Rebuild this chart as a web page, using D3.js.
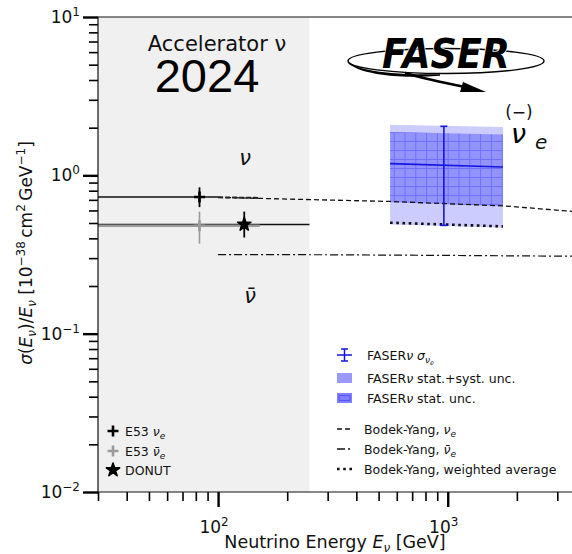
<!DOCTYPE html>
<html>
<head>
<meta charset="utf-8">
<script src="https://cdn.jsdelivr.net/npm/d3@7"></script>
<style>
  html, body { margin: 0; padding: 0; background: #fff; overflow: hidden; }
  svg { display: block; font-family: "DejaVu Sans", sans-serif; }
</style>
</head>
<body>
<svg id="chart" width="572" height="554"></svg>
<script>
// ---- axis ranges and ticks ----
const xDomain = [30, 4000];          // GeV
const yDomain = [0.01, 10];          // 1e-38 cm^2 / GeV
const xMajor = [100, 1000];
const xMajorExp = ["2", "3"];
const yMajor = [0.01, 0.1, 1, 10];
const yMajorExp = ["\u22122", "\u22121", "0", "1"];

// accelerator region
const accelRange = [30, 250];

// E53 nu_e
const e53NueE = 83, e53NueVal = 0.73, e53NueErr = [0.63, 0.84], e53NueRange = [20, 100];
// E53 anti-nu_e
const e53NuebE = 83, e53NuebVal = 0.48, e53NuebErr = [0.37, 0.59], e53NuebRange = [20, 152];
// DONUT
const donutE = 130, donutVal = 0.49, donutErr = [0.405, 0.59], donutRange = [20, 250];

// Bodek-Yang predictions
const byNueE = [100, 228, 561, 1790, 3470, 4000];
const byNueV = [0.726, 0.705, 0.684, 0.64, 0.592, 0.585];
const byNueAccelE = [100, 152];
const byNueAccelV = [0.726, 0.72];
const byNuebE = [100, 300, 1000, 4000];
const byNuebV = [0.316, 0.315, 0.312, 0.308];
const byAvgE = [561, 1740];
const byAvgV = [0.502, 0.476];

// FASERnu measurement
const faserE = [561, 1740];
const faserCentral = [1.186, 1.128];
const faserTotLo = [0.49, 0.466];
const faserTotHi = [2.09, 2.02];
const faserStatLo = [0.675, 0.64];
const faserStatHi = [1.88, 1.81];
const faserPointE = 962;
const faserPointErr = [0.483, 2.04];

const svg = d3.select("#chart");
const W = 572;
const m = { left: 98, top: 17, right: 586, bottom: 492 };

const x = d3.scaleLog().domain(xDomain).range([m.left, m.right]);
const y = d3.scaleLog().domain(yDomain).range([m.bottom, m.top]);

const defs = svg.append("defs");
defs.append("clipPath").attr("id", "plotclip")
  .append("rect").attr("x", m.left).attr("y", m.top)
  .attr("width", W - m.left).attr("height", m.bottom - m.top);

// hatch for the statistical band
const pat = defs.append("pattern").attr("id", "hatch")
  .attr("patternUnits", "userSpaceOnUse").attr("width", 10.8).attr("height", 9)
  .attr("x", 0).attr("y", 2);
pat.append("path").attr("d", "M5.4,0V9M0,4.5H10.8")
  .attr("stroke", "#4444ff").attr("stroke-width", 1).attr("stroke-opacity", 0.45);

const plot = svg.append("g").attr("clip-path", "url(#plotclip)");

// accelerator region shading
plot.append("rect")
  .attr("x", x(accelRange[0])).attr("y", m.top)
  .attr("width", x(accelRange[1]) - x(accelRange[0]))
  .attr("height", m.bottom - m.top)
  .attr("fill", "#f0f0f0");

const line = d3.line().x(d => x(d[0])).y(d => y(d[1]));
const zip = (a, b) => a.map((v, i) => [v, b[i]]);

// FASER bands
const area = d3.area().x(d => x(d[0])).y0(d => y(d[1])).y1(d => y(d[2]));
plot.append("path")
  .datum(faserE.map((e, i) => [e, faserTotLo[i], faserTotHi[i]]))
  .attr("d", area).attr("fill", "#0000ff").attr("fill-opacity", 0.2);
const statData = faserE.map((e, i) => [e, faserStatLo[i], faserStatHi[i]]);
plot.append("path").datum(statData).attr("d", area)
  .attr("fill", "#0000ff").attr("fill-opacity", 0.28);
plot.append("path").datum(statData).attr("d", area)
  .attr("fill", "url(#hatch)");

// Bodek-Yang curves
plot.append("path").datum(zip(byNueE, byNueV)).attr("d", line)
  .attr("fill", "none").attr("stroke", "#111").attr("stroke-width", 1.3)
  .attr("stroke-dasharray", "5,3");
plot.append("path").datum(zip(byNueAccelE, byNueAccelV)).attr("d", line)
  .attr("fill", "none").attr("stroke", "#222").attr("stroke-width", 2)
  .attr("stroke-dasharray", "5,2");
plot.append("path").datum(zip(byNuebE, byNuebV)).attr("d", line)
  .attr("fill", "none").attr("stroke", "#111").attr("stroke-width", 1.2)
  .attr("stroke-dasharray", "8,3,2,3");
plot.append("path").datum(zip(byAvgE, byAvgV)).attr("d", line)
  .attr("fill", "none").attr("stroke", "#111").attr("stroke-width", 2.6)
  .attr("stroke-dasharray", "2.6,3.6");

// FASER central value and error bar
plot.append("path").datum(zip(faserE, faserCentral)).attr("d", line)
  .attr("fill", "none").attr("stroke", "#1515e0").attr("stroke-width", 1.6);
const fx = x(faserPointE);
plot.append("line").attr("x1", fx).attr("x2", fx)
  .attr("y1", y(faserPointErr[0])).attr("y2", y(faserPointErr[1]))
  .attr("stroke", "#1515e0").attr("stroke-width", 1.6);
faserPointErr.forEach(v => plot.append("line")
  .attr("x1", fx - 3.5).attr("x2", fx + 3.5).attr("y1", y(v)).attr("y2", y(v))
  .attr("stroke", "#1515e0").attr("stroke-width", 1.6));

// accelerator measurements
function hbar(range, val, color, w) {
  plot.append("line").attr("x1", x(range[0])).attr("x2", x(range[1]))
    .attr("y1", y(val)).attr("y2", y(val))
    .attr("stroke", color).attr("stroke-width", w);
}
function vbar(e, err, color, w) {
  plot.append("line").attr("x1", x(e)).attr("x2", x(e))
    .attr("y1", y(err[0])).attr("y2", y(err[1]))
    .attr("stroke", color).attr("stroke-width", w);
}
function plus(g, cx, cy, color, s) {
  g.append("path").attr("d", `M${cx - s},${cy}H${cx + s}M${cx},${cy - s}V${cy + s}`)
    .attr("stroke", color).attr("stroke-width", 2.6).attr("fill", "none");
}
const starPath = d3.symbol().type(d3.symbolStar).size(55);
function star(g, cx, cy) {
  g.append("path").attr("d", starPath()).attr("transform", `translate(${cx},${cy})`)
    .attr("fill", "#000").attr("stroke", "#000").attr("stroke-width", 1.6)
    .attr("stroke-linejoin", "round");
}

hbar(donutRange, donutVal, "#111", 1.5);
hbar(e53NuebRange, e53NuebVal, "#9a9a9a", 2.6);
vbar(e53NuebE, e53NuebErr, "#9a9a9a", 1.6);
plus(plot, x(e53NuebE), y(e53NuebVal), "#9a9a9a", 5.5);
hbar(e53NueRange, e53NueVal, "#111", 1.5);
vbar(e53NueE, e53NueErr, "#000", 1.8);
plus(plot, x(e53NueE), y(e53NueVal), "#000", 5.5);
vbar(donutE, donutErr, "#000", 1.8);
star(plot, x(donutE), y(donutVal));

// ---- axes ----
function minors(lo, hi) {
  const out = [];
  for (let p = Math.floor(Math.log10(lo)); p <= Math.ceil(Math.log10(hi)); p++)
    for (let k = 2; k <= 9; k++) {
      const v = k * Math.pow(10, p);
      if (v >= lo && v <= hi) out.push(v);
    }
  return out;
}
const axG = svg.append("g");
// bottom
axG.append("g").attr("transform", `translate(0,${m.bottom})`)
  .call(d3.axisBottom(x).tickValues(minors(xDomain[0], 3500)).tickSize(9).tickFormat("").tickSizeOuter(0))
  .call(g => g.select(".domain").remove())
  .call(g => g.selectAll("line").attr("stroke", "#000").attr("stroke-width", 1.6));
axG.append("g").attr("transform", `translate(0,${m.bottom})`)
  .call(d3.axisBottom(x).tickValues(xMajor).tickSize(15).tickFormat("").tickSizeOuter(0))
  .call(g => g.select(".domain").remove())
  .call(g => g.selectAll("line").attr("stroke", "#000").attr("stroke-width", 2.4));
// left
axG.append("g").attr("transform", `translate(${m.left},0)`)
  .call(d3.axisLeft(y).tickValues(minors(yDomain[0], yDomain[1])).tickSize(9).tickFormat("").tickSizeOuter(0))
  .call(g => g.select(".domain").remove())
  .call(g => g.selectAll("line").attr("stroke", "#000").attr("stroke-width", 1.6));
axG.append("g").attr("transform", `translate(${m.left},0)`)
  .call(d3.axisLeft(y).tickValues(yMajor).tickSize(15).tickFormat("").tickSizeOuter(0))
  .call(g => g.select(".domain").remove())
  .call(g => g.selectAll("line").attr("stroke", "#000").attr("stroke-width", 2.4));

// spines: top, left and bottom (the right one lies past the visible width)
axG.append("path")
  .attr("d", `M${W},${m.top}H${m.left}V${m.bottom}H${W}`)
  .attr("fill", "none").attr("stroke", "#111").attr("stroke-width", 1.2);

// tick labels
xMajor.forEach((v, i) => {
  const t = svg.append("text").attr("x", x(v) - 4).attr("y", 533)
    .attr("text-anchor", "middle").attr("font-size", 17).attr("fill", "#111");
  t.append("tspan").text("10");
  t.append("tspan").attr("dy", -7).attr("font-size", 12).text(xMajorExp[i]);
});
yMajor.forEach((v, i) => {
  const t = svg.append("text").attr("x", 80).attr("y", y(v) + 6)
    .attr("text-anchor", "end").attr("font-size", 17).attr("fill", "#111");
  t.append("tspan").text("10");
  t.append("tspan").attr("dy", -7).attr("font-size", 12).text(yMajorExp[i]);
});

// axis titles
const xt = svg.append("text").attr("x", 335).attr("y", 548)
  .attr("text-anchor", "middle").attr("font-size", 17.5).attr("fill", "#111");
xt.append("tspan").text("Neutrino Energy ");
xt.append("tspan").attr("font-style", "italic").text("E");
xt.append("tspan").attr("font-style", "italic").attr("font-size", 12).attr("dy", 3.5).text("\u03bd");
xt.append("tspan").attr("dy", -3.5).text(" [GeV]");

const yt = svg.append("text").attr("transform", "translate(32,253) rotate(-90)")
  .attr("text-anchor", "middle").attr("font-size", 17).attr("fill", "#111");
yt.append("tspan").attr("font-style", "italic").text("\u03c3");
yt.append("tspan").text("(");
yt.append("tspan").attr("font-style", "italic").text("E");
yt.append("tspan").attr("font-style", "italic").attr("font-size", 12).attr("dy", 4).text("\u03bd");
yt.append("tspan").attr("dy", -4).text(")/");
yt.append("tspan").attr("font-style", "italic").text("E");
yt.append("tspan").attr("font-style", "italic").attr("font-size", 12).attr("dy", 4).text("\u03bd");
yt.append("tspan").attr("dy", -4).text(" [10");
yt.append("tspan").attr("dy", -7).attr("font-size", 12).text("\u221238");
yt.append("tspan").attr("dy", 7).text("\u2009cm");
yt.append("tspan").attr("dy", -7).attr("font-size", 12).text("2");
yt.append("tspan").attr("dy", 7).text("\u2009GeV");
yt.append("tspan").attr("dy", -7).attr("font-size", 12).text("\u22121");
yt.append("tspan").attr("dy", 7).text("]");

// annotations
svg.append("text").attr("x", 217).attr("y", 51).attr("text-anchor", "middle")
  .attr("font-size", 21).attr("fill", "#111").text("Accelerator \u03bd");
svg.append("text").attr("x", 207).attr("y", 92).attr("text-anchor", "middle")
  .attr("font-family", "'Liberation Sans', Arial, sans-serif")
  .attr("font-size", 47).attr("fill", "#000").text("2024");
svg.append("text").attr("x", 245).attr("y", 165).attr("text-anchor", "middle")
  .attr("font-size", 21).attr("font-style", "italic").attr("fill", "#111").text("\u03bd");
svg.append("text").attr("x", 250).attr("y", 303).attr("text-anchor", "middle")
  .attr("font-size", 21).attr("font-style", "italic").attr("fill", "#111").text("\u03bd\u0304");

// (-) nu_e label
svg.append("text").attr("x", 519).attr("y", 118).attr("text-anchor", "middle")
  .attr("font-size", 17).attr("fill", "#111").text("(\u2212)");
svg.append("text").attr("x", 511).attr("y", 143)
  .attr("font-size", 27).attr("font-style", "italic").attr("fill", "#000").text("\u03bd");
svg.append("text").attr("x", 535).attr("y", 149)
  .attr("font-size", 20).attr("font-style", "italic").attr("fill", "#111").text("e");

// FASER logo
const logo = svg.append("g");
logo.append("ellipse").attr("cx", 446).attr("cy", 61).attr("rx", 98).attr("ry", 12.5)
  .attr("fill", "none").attr("stroke", "#000").attr("stroke-width", 1.4);
logo.append("path")
  .attr("d", "M349,63 C360,72 395,76 440,75 C395,78 362,73 349,63 Z")
  .attr("fill", "#000").attr("stroke", "#000").attr("stroke-width", 1.6);
logo.append("path")
  .attr("d", "M405,73 C425,79 450,84 470,88")
  .attr("fill", "none").attr("stroke", "#000").attr("stroke-width", 2.4);
logo.append("path")
  .attr("d", "M463,82 L486,92 L460,92 Z").attr("fill", "#000");
logo.append("text").attr("x", 382).attr("y", 68)
  .attr("font-family", "'DejaVu Sans', sans-serif").attr("font-weight", "bold")
  .attr("font-style", "italic").attr("font-size", 40)
  .attr("textLength", 128).attr("lengthAdjust", "spacingAndGlyphs")
  .attr("fill", "#000").attr("stroke", "#fff").attr("stroke-width", 1.5)
  .attr("paint-order", "stroke").text("FASER");

// left legend (accelerator data)
const legL = svg.append("g");
const legLRows = [
  { y: 431, label: ["E53 ", "\u03bd", "e"], kind: "plus", color: "#000" },
  { y: 451, label: ["E53 ", "\u03bd\u0304", "e"], kind: "plus", color: "#9a9a9a" },
  { y: 470, label: ["DONUT"], kind: "star" }
];
legLRows.forEach(r => {
  if (r.kind === "plus") plus(legL, 113, r.y, r.color, 5.5);
  else star(legL, 113, r.y);
  const t = legL.append("text").attr("x", 125).attr("y", r.y + 4.5)
    .attr("font-size", 12.5).attr("fill", "#111");
  t.append("tspan").text(r.label[0]);
  if (r.label.length > 1) {
    t.append("tspan").attr("font-style", "italic").text(r.label[1]);
    t.append("tspan").attr("font-style", "italic").attr("font-size", 9).attr("dy", 3).text(r.label[2]);
  }
});

// right legend
const legR = svg.append("g");
// errorbar handle
legR.append("path").attr("d", "M337,355H352M344.5,349V361M341,349H348M341,361H348")
  .attr("stroke", "#1515e0").attr("stroke-width", 1.5).attr("fill", "none");
const t1 = legR.append("text").attr("x", 367).attr("y", 359.5).attr("font-size", 12.5).attr("fill", "#111");
t1.append("tspan").text("FASER");
t1.append("tspan").attr("font-style", "italic").text("\u03bd \u03c3");
t1.append("tspan").attr("font-style", "italic").attr("font-size", 9).attr("dy", 3).text("\u03bd");
t1.append("tspan").attr("font-style", "italic").attr("font-size", 6.5).attr("dy", 2).text("e");
// total band handle
legR.append("rect").attr("x", 337).attr("y", 373).attr("width", 15).attr("height", 10)
  .attr("fill", "#0000ff").attr("fill-opacity", 0.4);
const t2 = legR.append("text").attr("x", 367).attr("y", 382.5).attr("font-size", 12.5).attr("fill", "#111");
t2.append("tspan").text("FASER");
t2.append("tspan").attr("font-style", "italic").text("\u03bd");
t2.append("tspan").text(" stat.+syst. unc.");
// stat band handle
legR.append("rect").attr("x", 337).attr("y", 393).attr("width", 15).attr("height", 10)
  .attr("fill", "#0000ff").attr("fill-opacity", 0.5);
legR.append("path").attr("d", "M339,395.5H350V400.5H339Z")
  .attr("fill", "none").attr("stroke", "#3333ff").attr("stroke-width", 0.8).attr("stroke-opacity", 0.7);
const t3 = legR.append("text").attr("x", 367).attr("y", 402.5).attr("font-size", 12.5).attr("fill", "#111");
t3.append("tspan").text("FASER");
t3.append("tspan").attr("font-style", "italic").text("\u03bd");
t3.append("tspan").text(" stat. unc.");

const byLeg = [
  { y: 429, dash: "5,3", w: 1.3, label: ["Bodek-Yang, ", "\u03bd", "e"] },
  { y: 449, dash: "8,3,2,3", w: 1.3, label: ["Bodek-Yang, ", "\u03bd\u0304", "e"] },
  { y: 469, dash: "2.6,3.6", w: 2.6, label: ["Bodek-Yang, weighted average"] }
];
byLeg.forEach(r => {
  legR.append("line").attr("x1", 337).attr("x2", 352).attr("y1", r.y).attr("y2", r.y)
    .attr("stroke", "#111").attr("stroke-width", r.w).attr("stroke-dasharray", r.dash);
  const t = legR.append("text").attr("x", 364).attr("y", r.y + 4.5).attr("font-size", 12.5).attr("fill", "#111");
  t.append("tspan").text(r.label[0]);
  if (r.label.length > 1) {
    t.append("tspan").attr("font-style", "italic").text(r.label[1]);
    t.append("tspan").attr("font-style", "italic").attr("font-size", 9).attr("dy", 3).text(r.label[2]);
  }
});
</script>
</body>
</html>
